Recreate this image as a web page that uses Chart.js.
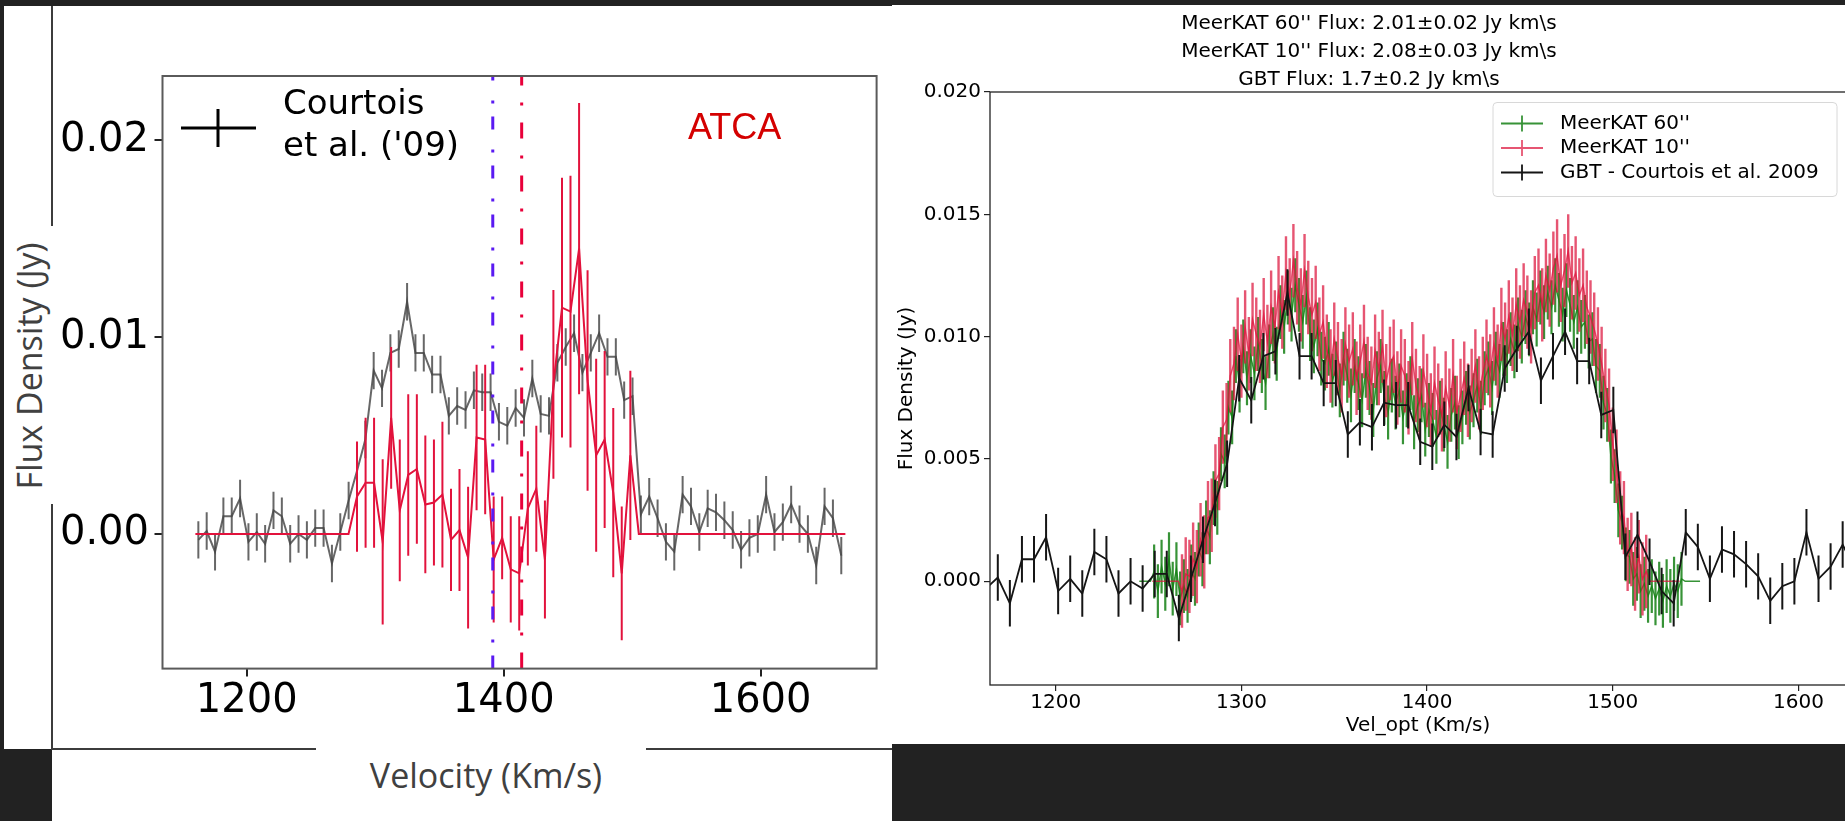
<!DOCTYPE html>
<html>
<head>
<meta charset="utf-8">
<script src="https://cdn.jsdelivr.net/npm/chart.js@4.4.1/dist/chart.umd.min.js"></script>
<style>
  html, body { margin: 0; padding: 0; }
  body { width: 1845px; height: 821px; background: #222; position: relative; overflow: hidden; }
  .abs { position: absolute; }
  .white { background: #fff; }
  .rule { position: absolute; background: #3c3c3c; }
  .label { position: absolute; font-family: 'Open Sans', sans-serif; font-size: 34px; color: #404040; white-space: nowrap; }
  canvas { position: absolute; }
</style>
</head>
<body>
<div class="abs white" style="left:4px;top:6px;width:888px;height:743px"></div>
<div class="abs white" style="left:52px;top:749px;width:840px;height:72px"></div>
<div class="abs white" style="left:892px;top:5px;width:953px;height:739px"></div>
<div class="rule" style="left:51px;top:6px;width:2px;height:743px"></div>
<div class="rule" style="left:51px;top:748px;width:841px;height:2px"></div>
<div class="abs white" style="left:4px;top:226px;width:53px;height:278px"></div>
<div class="abs white" style="left:316px;top:740px;width:330px;height:81px"></div>
<div class="label" style="left:29px;top:366px;transform:translate(-50%,-50%) rotate(-90deg)">Flux Density (Jy)</div>
<div class="label" style="left:486px;top:775px;transform:translate(-50%,-50%)">Velocity (Km/s)</div>

<canvas id="atcaChart" width="840" height="743" style="left:52px;top:6px"></canvas>
<canvas id="meerkatChart" width="1053" height="738" style="left:892px;top:6px"></canvas>

<script>
// GBT spectrum (Courtois et al. 2009), shown in both panels
const gbtVel = [
  1162.3, 1168.8, 1175.3, 1181.8, 1188.3, 1194.8, 1201.3, 1207.8, 1214.3, 1220.8,
  1227.3, 1233.8, 1240.3, 1246.8, 1253.3, 1259.8, 1266.3, 1272.8, 1279.3, 1285.8,
  1292.3, 1298.8, 1305.3, 1311.8, 1318.3, 1324.8, 1331.3, 1337.8, 1344.3, 1350.8,
  1357.3, 1363.8, 1370.3, 1376.8, 1383.3, 1389.8, 1396.3, 1402.8, 1409.3, 1415.8,
  1422.3, 1428.8, 1435.3, 1441.8, 1448.3, 1454.8, 1461.3, 1467.8, 1474.3, 1480.8,
  1487.3, 1493.8, 1500.3, 1506.8, 1513.3, 1519.8, 1526.3, 1532.8, 1539.3, 1545.8,
  1552.3, 1558.8, 1565.3, 1571.8, 1578.3, 1584.8, 1591.3, 1597.8, 1604.3, 1610.8,
  1617.3, 1623.8, 1630.3, 1636.8, 1643.3, 1649.8, 1656.3, 1662.8
];
const gbtFlux = [
  -0.0003, 0.00015, -0.0009, 0.0009, 0.0009, 0.0018, -0.0004, 0.0001, -0.0005, 0.0012,
  0.0009, -0.0005, 0.0000, -0.0003, 0.0003, 0.0003, -0.0015, 0.0001, 0.0017, 0.0032,
  0.0048, 0.0083, 0.0074, 0.0092, 0.0094, 0.0118, 0.0092, 0.0092, 0.0081, 0.0081,
  0.0060, 0.0065, 0.0063, 0.0073, 0.0072, 0.0072, 0.0057, 0.0055, 0.0064, 0.0059,
  0.0079, 0.0061, 0.0060, 0.0087, 0.0095, 0.0102, 0.0082, 0.0092, 0.0102, 0.0090,
  0.0090, 0.0068, 0.0070, 0.0010, 0.0019, 0.0008, -0.0004, -0.0009, 0.0020, 0.0014,
  0.0001, 0.0013, 0.0011, 0.0007, 0.0002, -0.0008, -0.0002, 0.0000, 0.0020, 0.0001,
  0.0006, 0.0015, 0.0005, 0.0000, -0.0016, 0.0014, 0.0008, -0.0011
];
const gbtErr = 0.00095;

// ATCA spectrum (left panel)
const atcaVel = [
  1160.0, 1279.2,
  1285.8, 1292.5, 1299.1, 1305.8, 1312.4, 1319.1, 1325.7, 1332.4, 1339.0, 1345.7,
  1352.3, 1359.0, 1365.6, 1372.3, 1378.9, 1385.6, 1392.2, 1398.8, 1405.5, 1412.1,
  1418.8, 1425.4, 1432.1, 1438.7, 1445.4, 1452.0, 1458.7, 1465.3, 1472.0, 1478.6,
  1485.3, 1491.9, 1498.6,
  1505.2, 1666.0
];
const atcaFlux = [
  0, 0,
  0.0019, 0.0026, 0.0026, -0.0004, 0.0059, 0.0012, 0.0030, 0.0033, 0.0015, 0.0016,
  0.0020, -0.0003, 0.0002, -0.0012, 0.0049, 0.0048, -0.0013, -0.0002, -0.0018, -0.0020,
  0.0013, 0.0023, -0.0013, 0.0076, 0.0115, 0.0113, 0.0145, 0.0078, 0.0040, 0.0048,
  0.0021, -0.0020, 0.0040,
  0, 0
];
const atcaErr = [
  0, 0,
  0.0028, 0.0033, 0.0033, 0.0042, 0.0036, 0.0036, 0.0041, 0.0038, 0.0035, 0.0032,
  0.0037, 0.0026, 0.0031, 0.0036, 0.0037, 0.0038, 0.0032, 0.0021, 0.0027, 0.0029,
  0.0029, 0.0032, 0.0030, 0.0048, 0.0066, 0.0069, 0.0074, 0.0056, 0.0049, 0.0045,
  0.0043, 0.0034, 0.0043,
  0, 0
];
const markerVel = [1391.5, 1414.0];   // dash-dot velocity markers

// MeerKAT 60'' spectrum (right panel)
const meerkat60Vel = [
  1245, 1247, 1249, 1251, 1253, 1255, 1257, 1259, 1261, 1263,
  1265, 1267, 1269, 1271, 1273, 1275, 1277, 1279, 1281, 1283,
  1285, 1287, 1289, 1291, 1293, 1295, 1297, 1299, 1301, 1303,
  1305, 1307, 1309, 1311, 1313, 1315, 1317, 1319, 1321, 1323,
  1325, 1327, 1329, 1331, 1333, 1335, 1337, 1339, 1341, 1343,
  1345, 1347, 1349, 1351, 1353, 1355, 1357, 1359, 1361, 1363,
  1365, 1367, 1369, 1371, 1373, 1375, 1377, 1379, 1381, 1383,
  1385, 1387, 1389, 1391, 1393, 1395, 1397, 1399, 1401, 1403,
  1405, 1407, 1409, 1411, 1413, 1415, 1417, 1419, 1421, 1423,
  1425, 1427, 1429, 1431, 1433, 1435, 1437, 1439, 1441, 1443,
  1445, 1447, 1449, 1451, 1453, 1455, 1457, 1459, 1461, 1463,
  1465, 1467, 1469, 1471, 1473, 1475, 1477, 1479, 1481, 1483,
  1485, 1487, 1489, 1491, 1493, 1495, 1497, 1499, 1501, 1503,
  1505, 1507, 1509, 1511, 1513, 1515, 1517, 1519, 1521, 1523,
  1525, 1527, 1529, 1531, 1533, 1535, 1537, 1539, 1541, 1543,
  1545, 1547
];
const meerkat60 = [
  0, 0, 0, 0, 0.0004, -0.0004, 0.0006, -0.0001, 0.0009, -0.0003,
  0.0005, -0.0007, -0.0002, -0.0006, 0.0004, 0.0001, 0.0013, 0.0009, 0.0022, 0.0018,
  0.0034, 0.0030, 0.0052, 0.0049, 0.0071, 0.0067, 0.0092, 0.0080, 0.0096, 0.0083,
  0.0092, 0.0085, 0.0097, 0.0088, 0.0081, 0.0094, 0.0101, 0.0093, 0.0110, 0.0104,
  0.0116, 0.0109, 0.0121, 0.0113, 0.0106, 0.0116, 0.0101, 0.0096, 0.0103, 0.0091,
  0.0089, 0.0095, 0.0082, 0.0087, 0.0078, 0.0091, 0.0084, 0.0076, 0.0088, 0.0081,
  0.0074, 0.0086, 0.0079, 0.0070, 0.0083, 0.0088, 0.0075, 0.0069, 0.0080, 0.0073,
  0.0078, 0.0067, 0.0074, 0.0081, 0.0065, 0.0072, 0.0076, 0.0062, 0.0070, 0.0066,
  0.0059, 0.0071, 0.0064, 0.0057, 0.0068, 0.0073, 0.0061, 0.0067, 0.0075, 0.0069,
  0.0074, 0.0080, 0.0071, 0.0083, 0.0087, 0.0079, 0.0091, 0.0086, 0.0095, 0.0092,
  0.0099, 0.0094, 0.0105, 0.0100, 0.0108, 0.0103, 0.0112, 0.0107, 0.0116, 0.0110,
  0.0118, 0.0112, 0.0121, 0.0115, 0.0109, 0.0119, 0.0113, 0.0106, 0.0112, 0.0104,
  0.0106, 0.0098, 0.0099, 0.0088, 0.0086, 0.0073, 0.0068, 0.0051, 0.0043, 0.0029,
  0.0024, 0.0011, 0.0010, 0.0001, 0.0003, -0.0004, -0.0001, -0.0006, -0.0002, -0.0007,
  -0.0003, -0.0008, -0.0002, -0.0006, -0.0001, -0.0004, 0.0001, 0, 0, 0,
  0, 0
];
const meerkat60Err = 0.0011;

// MeerKAT 10'' spectrum (right panel)
const meerkat10Vel = [
  1244, 1246, 1248, 1250, 1252, 1254, 1256, 1258, 1260, 1262,
  1264, 1266, 1268, 1270, 1272, 1274, 1276, 1278, 1280, 1282,
  1284, 1286, 1288, 1290, 1292, 1294, 1296, 1298, 1300, 1302,
  1304, 1306, 1308, 1310, 1312, 1314, 1316, 1318, 1320, 1322,
  1324, 1326, 1328, 1330, 1332, 1334, 1336, 1338, 1340, 1342,
  1344, 1346, 1348, 1350, 1352, 1354, 1356, 1358, 1360, 1362,
  1364, 1366, 1368, 1370, 1372, 1374, 1376, 1378, 1380, 1382,
  1384, 1386, 1388, 1390, 1392, 1394, 1396, 1398, 1400, 1402,
  1404, 1406, 1408, 1410, 1412, 1414, 1416, 1418, 1420, 1422,
  1424, 1426, 1428, 1430, 1432, 1434, 1436, 1438, 1440, 1442,
  1444, 1446, 1448, 1450, 1452, 1454, 1456, 1458, 1460, 1462,
  1464, 1466, 1468, 1470, 1472, 1474, 1476, 1478, 1480, 1482,
  1484, 1486, 1488, 1490, 1492, 1494, 1496, 1498, 1500, 1502,
  1504, 1506, 1508, 1510, 1512, 1514, 1516, 1518, 1520, 1522,
  1524, 1526, 1528, 1530, 1532, 1534, 1536, 1538, 1540, 1542,
  1544, 1546
];
const meerkat10 = [
  null, null, null, null, 0, 0, 0, 0, 0, 0,
  0, 0, -0.0004, 0.0003, 0.0002, 0.0009, 0.0006, 0.0017, 0.0012, 0.0026,
  0.0027, 0.0041, 0.0044, 0.0063, 0.0066, 0.0084, 0.0089, 0.0101, 0.0090, 0.0104,
  0.0093, 0.0107, 0.0101, 0.0096, 0.0109, 0.0098, 0.0112, 0.0104, 0.0118, 0.0110,
  0.0126, 0.0117, 0.0131, 0.0120, 0.0113, 0.0127, 0.0116, 0.0109, 0.0114, 0.0101,
  0.0106, 0.0094, 0.0088, 0.0099, 0.0091, 0.0084, 0.0097, 0.0090, 0.0095, 0.0083,
  0.0090, 0.0098, 0.0085, 0.0081, 0.0094, 0.0087, 0.0096, 0.0082, 0.0089, 0.0092,
  0.0079, 0.0088, 0.0084, 0.0075, 0.0091, 0.0080, 0.0073, 0.0086, 0.0078, 0.0070,
  0.0081, 0.0074, 0.0068, 0.0079, 0.0072, 0.0084, 0.0069, 0.0076, 0.0083, 0.0074,
  0.0080, 0.0088, 0.0077, 0.0085, 0.0092, 0.0086, 0.0097, 0.0090, 0.0105, 0.0099,
  0.0108, 0.0101, 0.0113, 0.0106, 0.0115, 0.0110, 0.0104, 0.0118, 0.0121, 0.0113,
  0.0125, 0.0119, 0.0128, 0.0133, 0.0121, 0.0127, 0.0135, 0.0122, 0.0126, 0.0117,
  0.0121, 0.0112, 0.0108, 0.0103, 0.0097, 0.0089, 0.0080, 0.0072, 0.0056, 0.0047,
  0.0030, 0.0026, 0.0011, 0.0013, 0.0003, 0.0010, 0.0001, 0.0004, 0, 0,
  0, 0, 0, 0, 0, 0, 0, null, null, null,
  null, null
];
const meerkat10Err = 0.0015;

// axes
const velLimL = [1134.4, 1690.3];
const fluxLimL = [-0.00684, 0.02327];
const velTicksL = [1200, 1400, 1600];
const fluxTicksL = [0, 0.01, 0.02];
const velLimR = [1164.6, 1625.6];
const fluxLimR = [-0.00424, 0.020];
const velTicksR = [1200, 1300, 1400, 1500, 1600];
const fluxTicksR = [0, 0.005, 0.010, 0.015, 0.020];

const legendLinesL = ['Courtois', "et al. ('09)"];
const atcaName = 'ATCA';
const titleLinesR = [
  "MeerKAT 60'' Flux: 2.01\u00b10.02 Jy km\\s",
  "MeerKAT 10'' Flux: 2.08\u00b10.03 Jy km\\s",
  "GBT Flux: 1.7\u00b10.2 Jy km\\s"
];

const toPoints = (xs, ys) => xs.map((x, i) => ({ x: x, y: ys[i] }));

// vertical error bars, drawn right after their own dataset
const errorBars = {
  id: 'errorBars',
  afterDatasetDraw(chart, args) {
    const ds = chart.data.datasets[args.index];
    if (ds.errors === undefined) return;
    const xs = chart.scales.x, ys = chart.scales.y, a = chart.chartArea;
    const ctx = chart.ctx;
    ctx.save();
    ctx.beginPath();
    ctx.rect(a.left, a.top, a.right - a.left, a.bottom - a.top);
    ctx.clip();
    ctx.strokeStyle = ds.borderColor;
    ctx.lineWidth = ds.errorWidth || 1.5;
    ctx.beginPath();
    ds.data.forEach((p, i) => {
      if (p.y === null) return;
      const e = Array.isArray(ds.errors) ? ds.errors[i] : ds.errors;
      if (!e || (ds.skipZero && p.y === 0)) return;
      const px = xs.getPixelForValue(p.x);
      ctx.moveTo(px, ys.getPixelForValue(p.y - e));
      ctx.lineTo(px, ys.getPixelForValue(p.y + e));
    });
    ctx.stroke();
    ctx.restore();
  }
};

// matplotlib style box round the axes
const frame = {
  id: 'frame',
  afterDraw(chart, args, opts) {
    const { ctx, chartArea: a } = chart;
    ctx.save();
    ctx.strokeStyle = opts.color;
    ctx.lineWidth = opts.width;
    ctx.strokeRect(a.left, a.top, a.right - a.left, a.bottom - a.top);
    ctx.restore();
  }
};

const atcaLegend = {
  id: 'atcaLegend',
  afterDraw(chart) {
    const { ctx, chartArea: a } = chart;
    ctx.save();
    ctx.strokeStyle = '#000';
    ctx.lineWidth = 3;
    ctx.beginPath();
    ctx.moveTo(a.left + 18.5, a.top + 52);
    ctx.lineTo(a.left + 93.5, a.top + 52);
    ctx.moveTo(a.left + 55.5, a.top + 33);
    ctx.lineTo(a.left + 55.5, a.top + 71);
    ctx.stroke();
    ctx.fillStyle = '#000';
    ctx.font = '34px "DejaVu Sans"';
    ctx.textBaseline = 'middle';
    legendLinesL.forEach((t, i) => ctx.fillText(t, a.left + 120.5, a.top + 29 + 42 * i));
    ctx.fillStyle = '#d40000';
    ctx.font = '36px "Liberation Sans"';
    ctx.fillText(atcaName, a.left + 525.5, a.top + 53);
    ctx.restore();
  }
};

const boxLegend = {
  id: 'boxLegend',
  afterDraw(chart) {
    const { ctx, chartArea: a } = chart;
    const w = 344, h = 94, x0 = a.right - 9 - w, y0 = a.top + 10.5;
    ctx.save();
    ctx.fillStyle = 'rgba(255,255,255,0.85)';
    ctx.strokeStyle = '#d8d8d8';
    ctx.lineWidth = 1;
    ctx.beginPath();
    ctx.roundRect(x0, y0, w, h, 4);
    ctx.fill();
    ctx.stroke();
    ctx.font = '20px "DejaVu Sans"';
    ctx.textBaseline = 'middle';
    chart.data.datasets.forEach((ds, i) => {
      const cy = y0 + 21 + 24.5 * i;
      ctx.strokeStyle = ds.borderColor;
      ctx.lineWidth = 1.8;
      ctx.beginPath();
      ctx.moveTo(x0 + 8, cy);
      ctx.lineTo(x0 + 50, cy);
      ctx.moveTo(x0 + 29, cy - 8);
      ctx.lineTo(x0 + 29, cy + 8);
      ctx.stroke();
      ctx.fillStyle = '#000';
      ctx.fillText(ds.label, x0 + 67, cy);
    });
    ctx.restore();
  }
};

// Left panel: ATCA vs GBT
new Chart(document.getElementById('atcaChart'), {
  type: 'line',
  data: {
    datasets: [
      {
        label: 'marker 1',
        data: [{ x: markerVel[0], y: fluxLimL[0] }, { x: markerVel[0], y: fluxLimL[1] }],
        borderColor: '#5a1af2', borderWidth: 3, borderDash: [13, 13, 3, 20], order: 0
      },
      {
        label: 'marker 2',
        data: [{ x: markerVel[1], y: fluxLimL[0] }, { x: markerVel[1], y: fluxLimL[1] }],
        borderColor: '#e8003a', borderWidth: 3, borderDash: [16, 17, 3, 17], order: 0
      },
      {
        label: atcaName,
        data: toPoints(atcaVel, atcaFlux),
        errors: atcaErr,
        borderColor: 'rgb(226,18,60)', borderWidth: 2, errorWidth: 2, order: 1
      },
      {
        label: 'Courtois et al. (\'09)',
        data: toPoints(gbtVel, gbtFlux),
        errors: gbtErr,
        borderColor: 'rgba(70,70,70,0.82)', borderWidth: 2, errorWidth: 2, order: 2
      }
    ]
  },
  options: {
    responsive: false,
    animation: false,
    events: [],
    layout: { padding: { top: 70, right: 15.4, left: 0, bottom: 0 } },
    elements: { point: { radius: 0 }, line: { tension: 0 } },
    plugins: {
      legend: { display: false },
      tooltip: { enabled: false },
      frame: { color: '#5a5a5a', width: 2 }
    },
    scales: {
      x: {
        type: 'linear',
        min: velLimL[0], max: velLimL[1],
        afterBuildTicks: s => { s.ticks = velTicksL.map(v => ({ value: v })); },
        afterFit: s => { s.height = 80.4; },
        ticks: {
          font: { family: 'DejaVu Sans', size: 40 }, color: '#000', padding: 1,
          maxRotation: 0, autoSkip: false, callback: v => String(v)
        },
        grid: { drawOnChartArea: false, color: '#222', tickLength: 8, lineWidth: 2 },
        border: { display: false }
      },
      y: {
        type: 'linear',
        min: fluxLimL[0], max: fluxLimL[1],
        afterBuildTicks: s => { s.ticks = fluxTicksL.map(v => ({ value: v })); },
        afterFit: s => { s.width = 110.5; },
        ticks: {
          font: { family: 'DejaVu Sans', size: 40 }, color: '#000', padding: 5.5,
          callback: v => v.toFixed(2)
        },
        grid: { drawOnChartArea: false, color: '#222', tickLength: 8, lineWidth: 2 },
        border: { display: false }
      }
    }
  },
  plugins: [errorBars, frame, atcaLegend]
});

// Right panel: MeerKAT vs GBT
new Chart(document.getElementById('meerkatChart'), {
  type: 'line',
  data: {
    datasets: [
      {
        label: "MeerKAT 60''",
        data: toPoints(meerkat60Vel, meerkat60),
        errors: meerkat60Err, skipZero: true,
        borderColor: 'rgba(20,128,20,0.85)', borderWidth: 1.5, errorWidth: 2.2, order: 3
      },
      {
        label: "MeerKAT 10''",
        data: toPoints(meerkat10Vel, meerkat10),
        errors: meerkat10Err, skipZero: true,
        borderColor: 'rgba(220,20,60,0.72)', borderWidth: 1.5, errorWidth: 2.4, order: 2
      },
      {
        label: 'GBT - Courtois et al. 2009',
        data: toPoints(gbtVel, gbtFlux),
        errors: gbtErr,
        borderColor: '#151515', borderWidth: 1.8, errorWidth: 2, order: 1
      }
    ]
  },
  options: {
    responsive: false,
    animation: false,
    events: [],
    layout: { padding: { top: 0, right: 99, left: 0, bottom: 0 } },
    elements: { point: { radius: 0 }, line: { tension: 0 } },
    plugins: {
      legend: { display: false },
      tooltip: { enabled: false },
      title: {
        display: true,
        text: titleLinesR,
        color: '#000',
        font: { family: 'DejaVu Sans', size: 20, weight: 'normal', lineHeight: 1.4 },
        padding: { top: 3.5, bottom: -1.5 }
      },
      frame: { color: '#222', width: 1.3 }
    },
    scales: {
      x: {
        type: 'linear',
        min: velLimR[0], max: velLimR[1],
        afterBuildTicks: s => { s.ticks = velTicksR.map(v => ({ value: v })); },
        afterFit: s => { s.height = 59; },
        ticks: {
          font: { family: 'DejaVu Sans', size: 20 }, color: '#000', padding: 0,
          maxRotation: 0, autoSkip: false, callback: v => String(v)
        },
        grid: { drawOnChartArea: false, color: '#222', tickLength: 6, lineWidth: 1.2 },
        border: { display: false },
        title: {
          display: true, text: 'Vel_opt (Km/s)', color: '#000',
          font: { family: 'DejaVu Sans', size: 20 }, padding: { top: 0, bottom: 6 }
        }
      },
      y: {
        type: 'linear',
        min: fluxLimR[0], max: fluxLimR[1],
        afterBuildTicks: s => { s.ticks = fluxTicksR.map(v => ({ value: v })); },
        afterFit: s => { s.width = 98; },
        ticks: {
          font: { family: 'DejaVu Sans', size: 20 }, color: '#000', padding: 3,
          callback: v => v.toFixed(3)
        },
        grid: { drawOnChartArea: false, color: '#222', tickLength: 6, lineWidth: 1.2 },
        border: { display: false },
        title: {
          display: true, text: 'Flux Density (Jy)', color: '#000',
          font: { family: 'DejaVu Sans', size: 20 }, padding: { top: 3, bottom: 0 }
        }
      }
    }
  },
  plugins: [errorBars, frame, boxLegend]
});
</script>
</body>
</html>
